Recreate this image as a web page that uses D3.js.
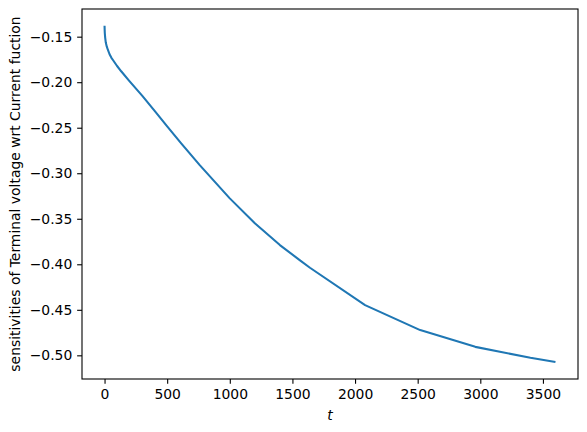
<!DOCTYPE html>
<html><head><meta charset="utf-8">
<script src="https://cdn.jsdelivr.net/npm/d3@7"></script>
<style>body{margin:0;background:#fff}svg{display:block}text{font-family:"DejaVu Sans",sans-serif}</style>
</head><body>
<svg id="c" width="587" height="432"></svg>
<script>
const tValues = [0, 1, 2, 5, 10, 18, 27, 40, 55, 67, 100, 133, 197, 300, 400, 500, 612, 760, 1000, 1200, 1400, 1558, 1640, 2080, 2520, 2960, 3400, 3600];
const sValues = [-0.138, -0.1425, -0.146, -0.151, -0.1565, -0.161, -0.1646, -0.1693, -0.1732, -0.1756, -0.1822, -0.1880, -0.1985, -0.2148, -0.2315, -0.2485, -0.2672, -0.2911, -0.3276, -0.355, -0.3789, -0.3954, -0.4038, -0.4448, -0.4723, -0.4907, -0.5027, -0.5073];
const xTicks = [0, 500, 1000, 1500, 2000, 2500, 3000, 3500];
const yTicks = [-0.15, -0.20, -0.25, -0.30, -0.35, -0.40, -0.45, -0.50];
const xLabel = "t";
const yLabel = "sensitivities of Terminal voltage wrt Current fuction";

const L = 82, R = 578, T = 9, B = 379;
const svg = d3.select("#c");
const x = d3.scaleLinear().domain([-180, 3780]).range([L, R]);
const y = d3.scaleLinear().domain([-0.526, -0.1196]).range([B, T]);
const fs = 13.9;

const gx = svg.append("g").attr("transform", `translate(0,${B})`)
  .call(d3.axisBottom(x).tickValues(xTicks).tickFormat(d3.format("d")).tickSize(4.86).tickPadding(4.86));
const gy = svg.append("g").attr("transform", `translate(${L},0)`)
  .call(d3.axisLeft(y).tickValues(yTicks).tickFormat(d => d3.format(".2f")(d).replace("-", "\u2212")).tickSize(4.86).tickPadding(4.86));
[gx, gy].forEach(g => {
  g.select(".domain").remove();
  g.selectAll("line").attr("stroke", "#000").attr("stroke-width", 1.1);
  g.selectAll("text").attr("fill", "#000").style("font-size", fs + "px").style("font-family", "DejaVu Sans");
});

const line = d3.line().x((d, i) => x(tValues[i])).y(d => y(d));
svg.append("path").datum(sValues).attr("d", line)
  .attr("fill", "none").attr("stroke", "#1f77b4").attr("stroke-width", 2.08)
  .attr("stroke-linejoin", "round").attr("stroke-linecap", "butt");

svg.append("rect").attr("x", L).attr("y", T).attr("width", R - L).attr("height", B - T)
  .attr("fill", "none").attr("stroke", "#000").attr("stroke-width", 1.1);

svg.append("text").attr("x", (L + R) / 2).attr("y", 420).attr("text-anchor", "middle")
  .style("font-size", fs + "px").style("font-style", "italic").text(xLabel);
svg.append("text").attr("transform", `translate(20,${(T + B) / 2}) rotate(-90)`).attr("text-anchor", "middle")
  .style("font-size", fs + "px").text(yLabel);
</script>
</body></html>
